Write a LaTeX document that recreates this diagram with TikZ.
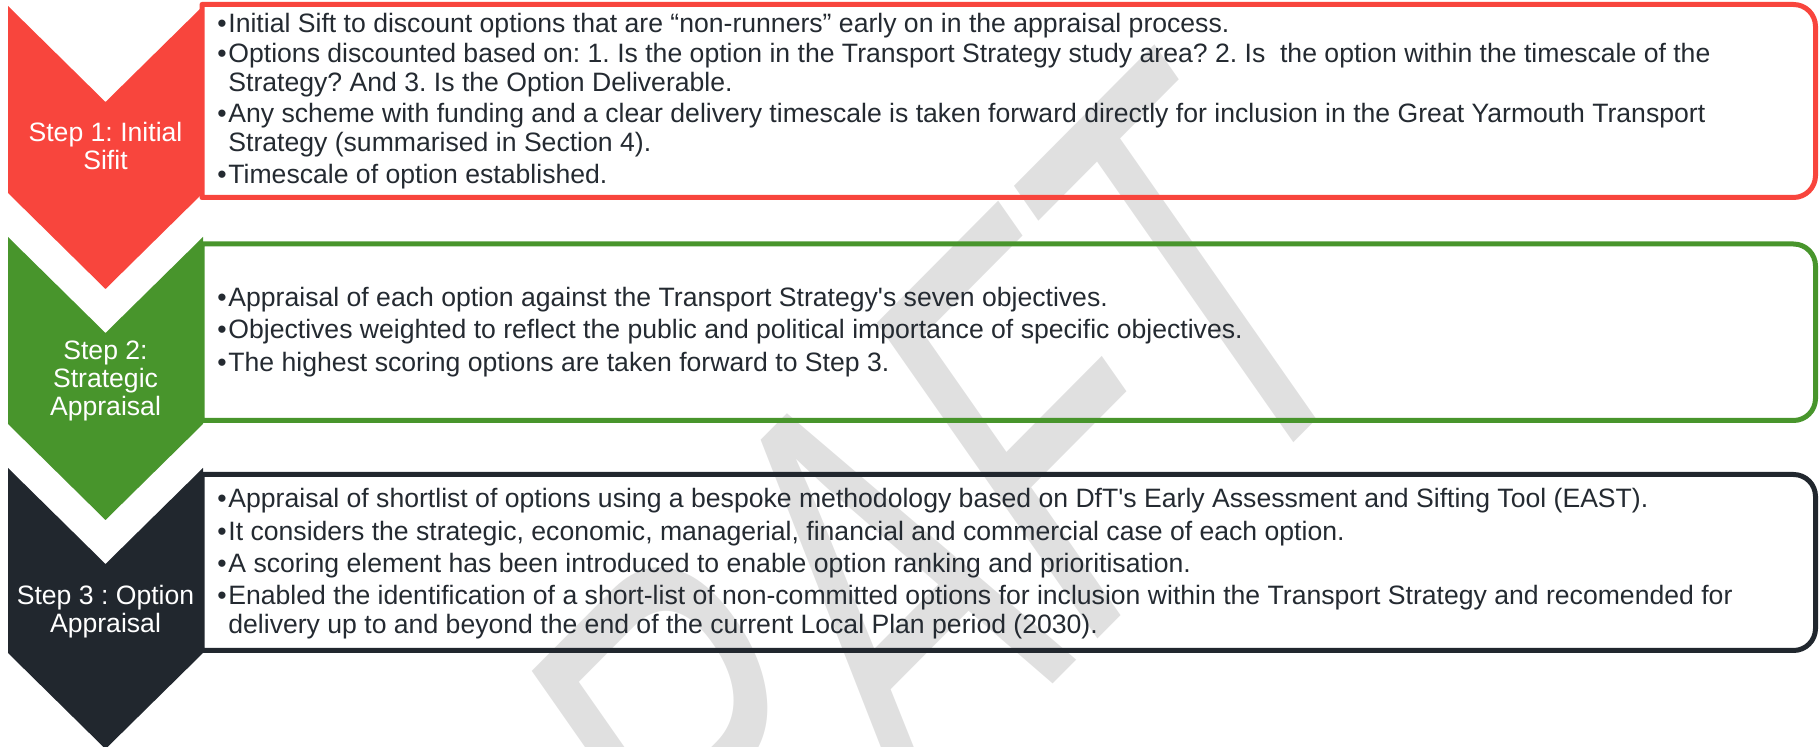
\documentclass[tikz,border=0pt]{standalone}
\usepackage{fontspec}
\setmainfont{Liberation Sans}
\frenchspacing
\definecolor{cred}{RGB}{248,69,61}
\definecolor{cgreen}{RGB}{72,149,44}
\definecolor{cdark}{RGB}{33,39,46}
\definecolor{ctext}{RGB}{36,42,49}
\definecolor{cwm}{RGB}{224,224,224}
\newcommand\bult{\makebox[5.5pt][l]{•}}
\newcommand\onel[1]{\hbox{\bult #1}}
\newcommand\twol[2]{\vtop{\hbox{\bult #1}\hbox{\hspace*{5.5pt}#2}}}
\newcommand\labtwo[2]{\vtop{\halign{\hfil##\hfil\cr#1\cr#2\cr}}}
\newcommand\labthree[3]{\vtop{\halign{\hfil##\hfil\cr#1\cr#2\cr#3\cr}}}
\newcommand\apos{\XeTeXglyph\XeTeXcharglyph"0027\relax}
\begin{document}
\begin{tikzpicture}[x=0.5pt,y=0.5pt,
  bul/.style={anchor=base west, inner sep=0pt, text=ctext, font=\fontsize{13.3}{14.4}\selectfont},
  lab/.style={anchor=base, inner sep=0pt, text=white, font=\fontsize{13.3}{14}\selectfont},
  boxline/.style={line width=2.5pt, line join=round},
  chevfill/.style={draw=none}]
\useasboundingbox (0,0) rectangle (1820,-747);
% watermark
\begin{scope}[shift={(1381,-354)}, yscale=1.2, rotate=40, xscale=0.65]
\node[transform shape, anchor=base east, inner sep=0pt, text=cwm, font=\fontsize{249.5}{255}\selectfont] (wm) at (0,0) {DRAFT};
\end{scope}
% boxes
\draw[boxline, cred] (202,-4.5) -- (1793.5,-4.5) arc[start angle=90, end angle=0, radius=22] -- (1815.5,-175.5) arc[start angle=0, end angle=-90, radius=22] -- (202,-197.5) -- cycle;
\draw[boxline, cgreen] (202,-244) -- (1793.5,-244) arc[start angle=90, end angle=0, radius=22] -- (1815.5,-398.5) arc[start angle=0, end angle=-90, radius=22] -- (202,-420.5) -- cycle;
\draw[boxline, cdark] (202,-474.5) -- (1793.5,-474.5) arc[start angle=90, end angle=0, radius=22] -- (1815.5,-628.5) arc[start angle=0, end angle=-90, radius=22] -- (202,-650.5) -- cycle;
% chevrons
\fill[chevfill, cred] (8,-6) -- (105.5,-102) -- (203,-6) -- (203,-193) -- (105.5,-289) -- (8,-193) -- cycle;
\fill[chevfill, cgreen] (8,-237) -- (105.5,-333) -- (203,-237) -- (203,-424) -- (105.5,-520) -- (8,-424) -- cycle;
\fill[chevfill, cdark] (8,-468) -- (105.5,-564) -- (203,-468) -- (203,-653) -- (105.5,-749) -- (8,-653) -- cycle;
% chevron labels
\node[lab] (s1) at (105.5,-142) {\labtwo{Step 1: Initial}{Sifit}};
\node[lab] (s2) at (105.5,-360) {\labthree{Step 2:}{Strategic}{Appraisal}};
\node[lab] (s3) at (105.5,-605) {\labtwo{Step 3 : Option}{Appraisal}};
% step 1 text
\node[bul] (r1) at (217,-33) {\onel{Initial Sift to discount options that are “non-runners” early on in the appraisal process.}};
\node[bul] (r2) at (217,-63) {\twol{Options discounted based on: 1. Is the option in the Transport Strategy study area? 2. Is\ \ the option within the timescale of the}{Strategy? And 3. Is the Option Deliverable.}};
\node[bul] (r3) at (217,-123) {\twol{Any scheme with funding and a clear delivery timescale is taken forward directly for inclusion in the Great Yarmouth Transport}{Strategy (summarised in Section 4).}};
\node[bul] (r4) at (217,-184) {\onel{Timescale of option established.}};
% step 2 text
\node[bul] (g1) at (217,-307) {\onel{Appraisal of each option against the Transport Strategy\apos s seven objectives.}};
\node[bul] (g2) at (217,-339) {\onel{Objectives weighted to reflect the public and political importance of specific objectives.}};
\node[bul] (g3) at (217,-372) {\onel{The highest scoring options are taken forward to Step 3.}};
% step 3 text
\node[bul] (d1) at (217,-508) {\onel{Appraisal of shortlist of options using a bespoke methodology based on DfT\apos s Early Assessment and Sifting Tool (EAST).}};
\node[bul] (d2) at (217,-541) {\onel{It considers the strategic, economic, managerial, financial and commercial case of each option.}};
\node[bul] (d3) at (217,-573) {\onel{A scoring element has been introduced to enable option ranking and prioritisation.}};
\node[bul] (d4) at (217,-605) {\twol{Enabled the identification of a short-list of non-committed options for inclusion within the Transport Strategy and recomended for}{delivery up to and beyond the end of the current Local Plan period (2030).}};
\end{tikzpicture}
\end{document}
